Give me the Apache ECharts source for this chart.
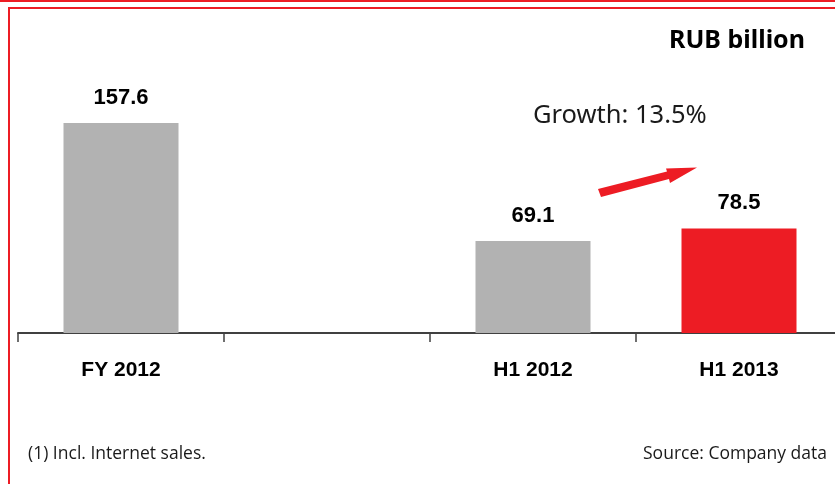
<!DOCTYPE html>
<html><head><meta charset="utf-8">
<script src="https://cdn.jsdelivr.net/npm/echarts@6/dist/echarts.min.js"></script>
<style>html,body{margin:0;padding:0;background:#fff;overflow:hidden}#c{width:845px;height:484px}</style>
</head><body><div id="c"></div>
<script>
const categories = ['FY 2012', '', 'H1 2012', 'H1 2013'];
const values = [157.6, null, 69.1, 78.5];
const barColors = ['#b2b2b2', '#b2b2b2', '#b2b2b2', '#ed1c24'];
const unitLabel = 'RUB billion';
const growthLabel = 'Growth: 13.5%';
const footnote = '(1) Incl. Internet sales.';
const sourceNote = 'Source: Company data';

const chart = echarts.init(document.getElementById('c'));
chart.setOption({
  animation: false,
  grid: { left: 18, width: 824, top: 66.5, height: 266.5, containLabel: false },
  xAxis: {
    type: 'category', data: categories,
    axisLine: { lineStyle: { color: '#404040', width: 2 } },
    axisTick: { show: true, length: 9, lineStyle: { color: '#404040', width: 1.5 } },
    axisLabel: { margin: 27, color: '#000', fontFamily: 'Liberation Sans', fontWeight: 'bold', fontSize: 21 }
  },
  yAxis: { type: 'value', min: 0, max: 200, show: false, splitLine: { show: false } },
  series: [{
    type: 'bar', barWidth: 115,
    data: values.map((v, i) => ({ value: v, itemStyle: { color: barColors[i] } })),
    label: { show: true, position: 'top', distance: 14, color: '#000', fontFamily: 'Liberation Sans', fontWeight: 'bold', fontSize: 22 }
  }],
  graphic: [
    { type: 'rect', shape: { x: 0, y: 0, width: 845, height: 2 }, style: { fill: '#ed1c24' } },
    { type: 'rect', shape: { x: 8, y: 7, width: 837, height: 2 }, style: { fill: '#ed1c24' } },
    { type: 'rect', shape: { x: 8, y: 7, width: 2, height: 477 }, style: { fill: '#ed1c24' } },
    { type: 'text', right: 40, top: 28, style: { text: unitLabel, font: 'bold 25px "Noto Sans"', fill: '#000' } },
    { type: 'text', left: 533, top: 103, style: { text: growthLabel, font: '25.5px "Noto Sans"', fill: '#1a1a1a' } },
    { type: 'polygon', shape: { points: [[598,189],[667,171.5],[666,168.5],[697,167.5],[670,183],[669,179],[601,197]] }, style: { fill: '#ed1c24' } },
    { type: 'text', left: 28, top: 445, style: { text: footnote, font: '17.5px "Open Sans"', fill: '#1a1a1a' } },
    { type: 'text', right: 18, top: 445, style: { text: sourceNote, font: '17.5px "Open Sans"', fill: '#1a1a1a' } }
  ]
});
</script></body></html>
